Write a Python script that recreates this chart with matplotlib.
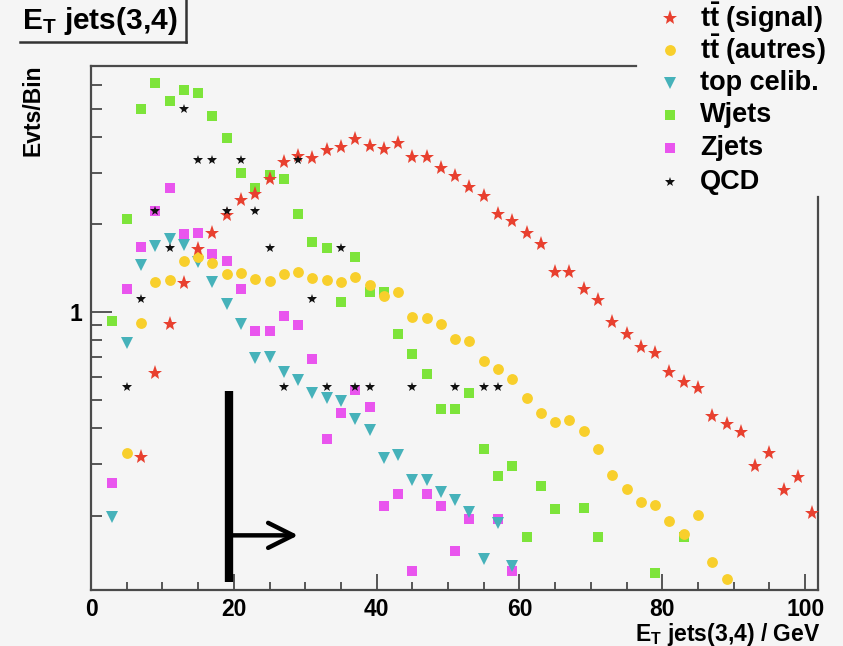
import matplotlib
matplotlib.use("Agg")
import matplotlib.pyplot as plt
from matplotlib.lines import Line2D
from matplotlib.ticker import MultipleLocator, LogLocator, NullFormatter, FuncFormatter

plt.rcParams['font.family'] = ['Liberation Sans', 'DejaVu Sans']
plt.rcParams['font.weight'] = 'bold'
plt.rcParams['mathtext.fontset'] = 'custom'
plt.rcParams['mathtext.rm'] = 'Liberation Sans:bold'
plt.rcParams['mathtext.it'] = 'Liberation Sans:bold'
plt.rcParams['mathtext.bf'] = 'Liberation Sans:bold'

# ---------------- data (Evts/Bin vs E_T jets(3,4) / GeV) ----------------
signal_x = [7, 9, 11, 13, 15, 17, 19, 21, 23, 25, 27, 29, 31, 33, 35, 37, 39, 41, 43, 45,
            47, 49, 51, 53, 55, 57, 59, 61, 63, 65, 67, 69, 71, 73, 75, 77, 79, 81, 83, 85,
            87, 89, 91, 93, 95, 97, 99, 101]
signal_y = [0.318, 0.617, 0.909, 1.258, 1.646, 1.868, 2.154, 2.426, 2.544, 2.864,
            3.278, 3.436, 3.383, 3.604, 3.69, 3.93, 3.72, 3.63, 3.81, 3.41,
            3.41, 3.125, 2.934, 2.689, 2.504, 2.172, 2.055, 1.868, 1.713, 1.372,
            1.372, 1.2, 1.10, 0.924, 0.840, 0.758, 0.723, 0.622, 0.575, 0.548,
            0.439, 0.412, 0.387, 0.296, 0.328, 0.2445, 0.271, 0.204]

autres_x = [5, 7, 9, 11, 13, 15, 17, 19, 21, 23, 25, 27, 29, 31, 33, 35, 37, 39, 41, 43,
            45, 47, 49, 51, 53, 55, 57, 59, 61, 63, 65, 67, 69, 71, 73, 75, 77, 79, 81, 83,
            85, 87, 89]
autres_y = [0.328, 0.917, 1.268, 1.288, 1.497, 1.545, 1.474, 1.351, 1.361, 1.298,
            1.278, 1.351, 1.372, 1.309, 1.288, 1.268, 1.319, 1.238, 1.135, 1.171,
            0.961, 0.954, 0.909, 0.808, 0.795, 0.679, 0.637, 0.589, 0.506, 0.450,
            0.419, 0.425, 0.390, 0.338, 0.275, 0.2464, 0.2223, 0.2171, 0.1913, 0.1726,
            0.2006, 0.1383, 0.1209]

top_x = [3, 5, 7, 9, 11, 13, 15, 17, 19, 21, 23, 25, 27, 29, 31, 33, 35, 37, 39, 41,
         43, 45, 47, 49, 51, 53, 55, 57, 59]
top_y = [0.1975, 0.782, 1.450, 1.686, 1.782, 1.699, 1.485, 1.268, 1.065, 0.909,
         0.695, 0.700, 0.622, 0.584, 0.527, 0.506, 0.494, 0.429, 0.393, 0.315,
         0.3225, 0.2647, 0.2647, 0.2406, 0.2259, 0.2055, 0.1416, 0.1883, 0.134]

wjets_x = [3, 5, 7, 9, 11, 13, 15, 17, 19, 21, 23, 25, 27, 29, 31, 33, 35, 37, 39, 41,
           43, 45, 47, 49, 51, 53, 55, 57, 59, 61, 63, 65, 69, 71, 79, 83]
wjets_y = [0.931, 2.087, 4.985, 6.12, 5.31, 5.79, 5.655, 4.716, 3.963, 3.004,
           2.668, 2.957, 2.864, 2.172, 1.740, 1.659, 1.082, 1.545, 1.171, 1.171,
           0.840, 0.717, 0.612, 0.464, 0.464, 0.527, 0.338, 0.273, 0.296, 0.1686,
           0.2524, 0.2104, 0.2121, 0.1686, 0.1268, 0.1686]

zjets_x = [3, 5, 7, 9, 11, 13, 15, 17, 19, 21, 23, 25, 27, 29, 31, 33, 35, 37, 39, 41,
           43, 45, 47, 49, 51, 53, 57, 59]
zjets_y = [0.2585, 1.2, 1.673, 2.224, 2.668, 1.854, 1.868, 1.582, 1.497, 1.2,
           0.860, 0.860, 0.969, 0.902, 0.690, 0.366, 0.450, 0.539, 0.472, 0.2154,
           0.2368, 0.1288, 0.2368, 0.2154, 0.151, 0.1943, 0.1943, 0.1288]

qcd_x = [5, 7, 9, 11, 13, 15, 17, 19, 21, 23, 25, 27, 29, 31, 33, 35, 37, 39, 45, 51, 55, 57]
qcd_y = [0.554, 1.108, 2.216, 1.662, 4.986, 3.324, 3.324, 2.216, 3.324, 2.216,
         1.662, 0.554, 3.324, 1.108, 0.554, 1.662, 0.554, 0.554, 0.554, 0.554, 0.554, 0.554]

labels = [r'$\mathrm{t\bar{t}}$ (signal)', r'$\mathrm{t\bar{t}}$ (autres)',
          'top celib.', 'Wjets', 'Zjets', 'QCD']
xticks = [0, 20, 40, 60, 80, 100]

# ---------------- styles ----------------
BG = '#f5f5f5'
AX = '#4a4a4a'
styles = {
    'signal': dict(marker='*', color='#e8402f', ms=11, z=5),
    'autres': dict(marker='o', color='#f8cf2c', ms=7.8, z=4),
    'top':    dict(marker='v', color='#46b2ba', ms=8.0, z=3),
    'wjets':  dict(marker='s', color='#7de43a', ms=7.4, z=1),
    'zjets':  dict(marker='s', color='#e955ee', ms=7.4, z=2),
    'qcd':    dict(marker='*', color='#111111', ms=7.2, z=6),
}
series = [('signal', signal_x, signal_y), ('autres', autres_x, autres_y),
          ('top', top_x, top_y), ('wjets', wjets_x, wjets_y),
          ('zjets', zjets_x, zjets_y), ('qcd', qcd_x, qcd_y)]

W, H = 843, 646
fig = plt.figure(figsize=(W / 100, H / 100), dpi=100, facecolor=BG)
ax = fig.add_axes([91 / W, 1 - 590 / H, (818 - 91) / W, (590 - 66) / H], facecolor=BG)

for key, xs, ys in series:
    st = styles[key]
    ax.plot(xs, ys, linestyle='none', marker=st['marker'], color=st['color'],
            markersize=st['ms'], markeredgewidth=0, zorder=st['z'], clip_on=False)

ax.set_yscale('log')
ax.set_xlim(0, 101.8)
ax.set_ylim(0.111, 7.0)

ax.xaxis.set_major_locator(MultipleLocator(20))
ax.xaxis.set_minor_locator(MultipleLocator(5))
ax.set_xticks(xticks)
ax.set_xticklabels([str(t) for t in xticks])
ax.yaxis.set_major_locator(LogLocator(base=10, subs=(1.0,)))
ax.yaxis.set_minor_locator(LogLocator(base=10, subs=(2, 3, 4, 5, 6, 7, 8, 9)))
ax.yaxis.set_minor_formatter(NullFormatter())
ax.yaxis.set_major_formatter(FuncFormatter(lambda v, p: f'{v:g}'))

ax.tick_params(axis='x', which='major', direction='in', length=11.5, width=1.3,
               color=AX, labelsize=16.5, pad=6, top=False)
ax.tick_params(axis='x', which='minor', direction='in', length=5.5, width=1.3,
               color=AX, top=False)
ax.tick_params(axis='y', which='major', direction='in', length=15, width=1.3,
               color=AX, labelsize=16.5, pad=6, right=False)
ax.tick_params(axis='y', which='minor', direction='in', length=8, width=1.3,
               color=AX, right=False)

for s in ax.spines.values():
    s.set_color(AX)
    s.set_linewidth(1.6)
ax.spines['top'].set_bounds(0, 76.3)
ax.spines['right'].set_bounds(0.111, 2.48)

# arrow annotation (cut marker)
ax.plot([19.3, 19.3], [0.118, 0.535], color='black', lw=6, solid_capstyle='butt',
        clip_on=False, zorder=7)
ax.annotate('', xy=(29.0, 0.171), xytext=(19.3, 0.171),
            arrowprops=dict(arrowstyle='->,head_length=0.9,head_width=0.45',
                            lw=3.2, color='black', mutation_scale=20,
                            shrinkA=0, shrinkB=0), zorder=7)

# legend (manual, ROOT style, no frame)
leg_y = [18, 50, 83, 115, 148, 182]
for (key, _, _), lab, yy in zip(series, labels, leg_y):
    st = styles[key]
    fig.add_artist(Line2D([670 / W], [1 - yy / H], transform=fig.transFigure,
                          linestyle='none', marker=st['marker'], color=st['color'],
                          markersize=st['ms'], markeredgewidth=0))
    fig.text(700 / W, 1 - yy / H, lab, fontsize=19.5, fontweight='bold',
             ha='left', va='center')

# title box
fig.text(22 / W, 1 - 21 / H, r'E$_\mathrm{T}$ jets(3,4)', fontsize=21.5,
         fontweight='bold', ha='left', va='center')
fig.add_artist(Line2D([20 / W, 186 / W], [1 - 42 / H, 1 - 42 / H],
                      transform=fig.transFigure, color='#333333', lw=1.8))
fig.add_artist(Line2D([186 / W, 186 / W], [1 - 42 / H, 1.0],
                      transform=fig.transFigure, color='#333333', lw=1.8))

# axis titles
fig.text(33 / W, 1 - 64 / H, 'Evts/Bin', rotation=90, fontsize=16.5,
         fontweight='bold', ha='center', va='top')
fig.text(820 / W, 1 - 634 / H, r'E$_\mathrm{T}$ jets(3,4) / GeV', fontsize=16.5,
         fontweight='bold', ha='right', va='center')

fig.savefig('out.png', dpi=100, facecolor=BG)
